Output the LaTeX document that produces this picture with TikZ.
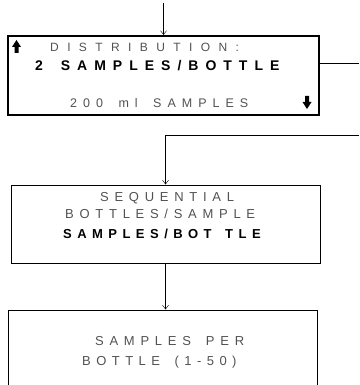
\documentclass[tikz,border=0pt]{standalone}
\usepackage{fontspec}
\setmainfont{Liberation Sans}
\usetikzlibrary{arrows.meta}
\makeatletter
\newcommand\track[2]{\@tfor\tk:=#2\do{\tk\kern#1\relax}}
\makeatother
\tikzset{>={Straight Barb[length=4pt,width=6pt]}}
\tikzset{screen/.style = {shape=rectangle,draw,line width=1pt,inner sep=0pt}}
\tikzset{dim/.style = {text=black!68,inner sep=0pt,anchor=base west,
    font=\fontsize{#1}{#1}\selectfont}}
\tikzset{strong/.style = {text=black,inner sep=0pt,anchor=base west,
    font=\fontsize{#1}{#1}\selectfont\bfseries}}

\begin{document}
\begin{tikzpicture}[x=1pt,y=-1pt]
                    \useasboundingbox (0,0) rectangle (359,385);
                    \clip (0,0) rectangle (359,385);

                    \node[screen,line width=2pt,minimum width=311pt,minimum height=79pt] (dist) at (163.5,75.5) {};
                    \node[screen,minimum width=309pt,minimum height=78pt] (order) at (165.5,224) {};
                    \node[screen,minimum width=309pt,minimum height=100pt] (count) at (162.5,360) {};

                    \node[dim=12] (d1) at (50,52) {\track{0.7em}{DISTRIBUTION:}};
                    \node[strong=14] (d2) at (35,71) {\track{0.5em}{2~SAMPLES/BOTTLE}};
                    \node[dim=12.5] (d3) at (70,107) {\track{0.48em}{200~ml~SAMPLES}};

                    \node[dim=13] (o1) at (100,201) {\track{0.44em}{SEQUENTIAL}};
                    \node[dim=13] (o2) at (65,218) {\track{0.44em}{BOTTLES/SAMPLE}};
                    \node[strong=13] (o3) at (63,238) {\track{0.42em}{SAMPLES/BOT{\kern0.2em}TLE}};

                    \node[dim=13] (c1) at (95,345) {\track{0.44em}{SAMPLES~PER}};
                    \node[dim=13] (c2) at (82,365) {\track{0.42em}{BOTTLE~(1-50)}};

                    \coordinate (in) at (163.5,3);
                    \coordinate (out) at (359,63);
                    \coordinate (back) at (359,135);

                    \draw[->] (in) -- (dist.north);
                    \draw (dist.east |- out) -- (out);
                    \draw[->] (back) -| (order.north);
                    \draw[->] (order.south) -- (order.south |- count.north);

                    \fill (12,47) -- (16.5,40) -- (21,47) -- (18.5,47) -- (18.5,53) -- (14.5,53) -- (14.5,47) -- cycle;
                    \fill (302.5,102) -- (307,109) -- (311.5,102) -- (309,102) -- (309,96) -- (305,96) -- (305,102) -- cycle;
                \end{tikzpicture}
\end{document}
